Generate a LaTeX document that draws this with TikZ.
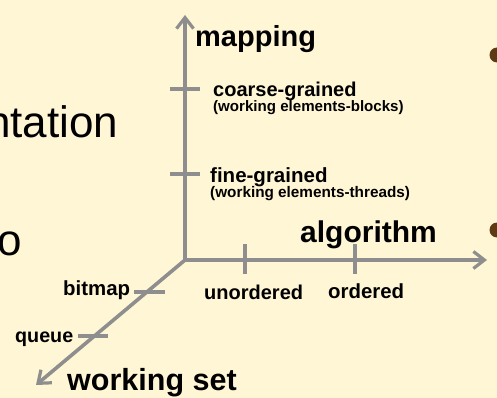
\documentclass[tikz,border=0pt]{standalone}
\usepackage{fontspec}
\setmainfont{Liberation Sans}
\usetikzlibrary{arrows.meta}
\definecolor{bgc}{HTML}{FFF6D5}
\definecolor{axisc}{HTML}{8E8E8E}
\definecolor{bulletc}{HTML}{5E3B12}
\tikzset{
  axis/.style={draw=axisc, line width=3.6pt, -{Straight Barb[length=11pt,width=17pt,line width=3.2pt]}},
  tick/.style={draw=axisc, line width=3.6pt},
  lbl/.style={anchor=base west, inner sep=0pt, font=\bfseries},
  slide/.style={anchor=base west, inner sep=0pt},
}
\newcommand{\fsz}[1]{\fontsize{#1}{#1}\selectfont}
\begin{document}
\begin{tikzpicture}[x=1pt,y=-1pt]
\useasboundingbox (0,0) rectangle (497,398);
\fill[bgc] (0,0) rectangle (497,398);
\begin{scope}
\clip (0,0) rectangle (497,398);
% slide fragments
\node[slide, font=\fsz{44}] (slt) at (-14,138) {ntation};
\node[slide, font=\fsz{44}] (slo) at (-3,255) {o};
\fill[bulletc] (497,55) circle (7.5);
\fill[bulletc] (497,230) circle (7.5);
\end{scope}
% axes
\coordinate (O) at (185,260);
\coordinate (Ytip) at (185,15);
\coordinate (Xtip) at (487,260);
\coordinate (Ztip) at (36,385);
\draw[axis] (O) -- (Ytip);
\draw[axis] (O) -- (Xtip);
\draw[axis] (O) -- (Ztip);
% ticks on mapping axis
\coordinate (y1a) at (170,89); \coordinate (y1b) at (200,89);
\coordinate (y2a) at (170,174); \coordinate (y2b) at (200,174);
\draw[tick] (y1a) -- (y1b);
\draw[tick] (y2a) -- (y2b);
% ticks on algorithm axis
\coordinate (x1a) at (245,244); \coordinate (x1b) at (245,274);
\coordinate (x2a) at (355,244); \coordinate (x2b) at (355,274);
\draw[tick] (x1a) -- (x1b);
\draw[tick] (x2a) -- (x2b);
% ticks on working set axis
\coordinate (z1a) at (134,292); \coordinate (z1b) at (165,292);
\coordinate (z2a) at (78,336); \coordinate (z2b) at (108,336);
\draw[tick] (z1a) -- (z1b);
\draw[tick] (z2a) -- (z2b);
% labels
\node[lbl, font=\bfseries\fsz{29}] (map) at (195,47) {mapping};
\node[lbl, font=\bfseries\fsz{20}] (cg) at (213,97) {coarse-grained};
\node[lbl, font=\bfseries\fsz{15.1}] (cgs) at (213,112) {(working elements-blocks)};
\node[lbl, font=\bfseries\fsz{20.5}] (fg) at (210,182) {fine-grained};
\node[lbl, font=\bfseries\fsz{15.3}] (fgs) at (210,197) {(working elements-threads)};
\node[lbl, font=\bfseries\fsz{30}] (alg) at (300,242) {algorithm};
\node[lbl, font=\bfseries\fsz{20}] (uno) at (204,299) {unordered};
\node[lbl, font=\bfseries\fsz{20.4}] (ord) at (328,298) {ordered};
\node[lbl, font=\bfseries\fsz{20.4}] (bm) at (63,295) {bitmap};
\node[lbl, font=\bfseries\fsz{19.7}] (qu) at (15,342) {queue};
\node[lbl, font=\bfseries\fsz{30.5}] (ws) at (67,390) {working set};
\end{tikzpicture}
\end{document}
